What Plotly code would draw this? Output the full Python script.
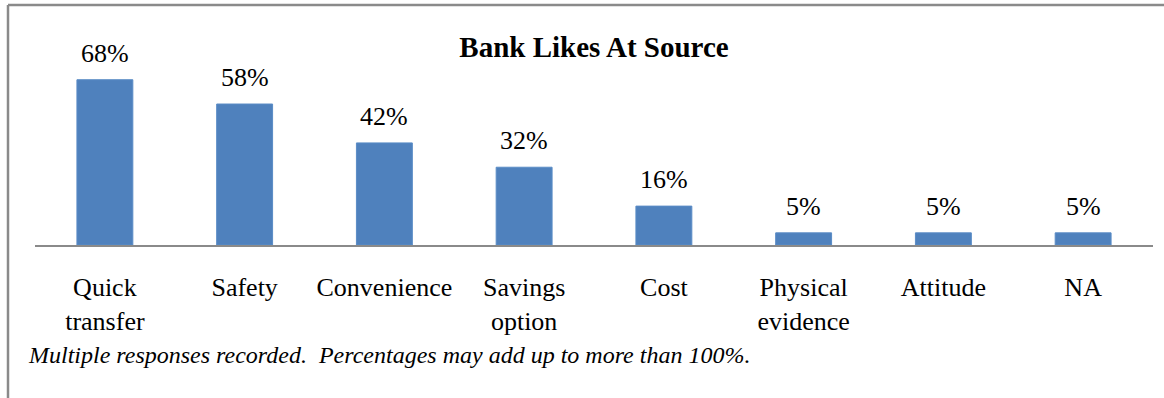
import plotly.graph_objects as go

# Survey data: share of respondents naming each reason they like the bank at source
categories = ["Quick<br>transfer", "Safety", "Convenience", "Savings<br>option",
              "Cost", "Physical<br>evidence", "Attitude", "NA"]
shares = [68, 58, 42, 32, 16, 5, 5, 5]

title_text = "Bank Likes At Source"
footnote = "Multiple responses recorded.&nbsp; Percentages may add up to more than 100%."

FONT = "Liberation Serif, Times New Roman, serif"
BAR = "#4F81BD"
FRAME = "#8a8a8a"

W, H = 1164, 398
ML, MR, MT, MB = 35, 11, 70, 153
plot_w = W - ML - MR
plot_h = H - MT - MB


def px_x(px):
    return (px - ML) / plot_w


def px_y(py):
    return (H - MB - py) / plot_h


fig = go.Figure(
    go.Bar(
        x=categories,
        y=shares,
        marker=dict(color=BAR, line=dict(color="#5a8cc6", width=1)),
        hoverinfo="skip",
    )
)

# value labels above the bars
for c, v in zip(categories, shares):
    fig.add_annotation(
        x=c, y=v, xref="x", yref="y",
        text=f"{v}%", showarrow=False,
        yanchor="bottom", yshift=10,
        font=dict(family=FONT, size=26, color="black"),
    )

# footnote
fig.add_annotation(
    x=px_x(26), y=px_y(355), xref="paper", yref="paper",
    xanchor="left", yanchor="middle", showarrow=False,
    text=f"<i>{footnote}</i>",
    font=dict(family=FONT, size=24, color="black"),
)

# frame: top and left edges
fig.add_shape(type="line", xref="paper", yref="paper",
              x0=px_x(8), x1=px_x(1170), y0=px_y(5), y1=px_y(5),
              line=dict(color=FRAME, width=2.5))
fig.add_shape(type="line", xref="paper", yref="paper",
              x0=px_x(8), x1=px_x(8), y0=px_y(5), y1=px_y(405),
              line=dict(color=FRAME, width=2.5))

fig.update_layout(
    width=W, height=H,
    margin=dict(l=ML, r=MR, t=MT, b=MB, pad=0),
    paper_bgcolor="white", plot_bgcolor="white",
    font=dict(family=FONT, size=26, color="black"),
    showlegend=False,
    bargap=0.6,
    title=dict(
        text=f"<b>{title_text}</b>",
        x=0.5, xref="paper", xanchor="center",
        y=1 - 47 / H, yref="container", yanchor="middle",
        font=dict(family=FONT, size=29, color="black"),
    ),
    xaxis=dict(
        showline=True, linecolor=FRAME, linewidth=2,
        showgrid=False, zeroline=False,
        ticks="", ticklabelstandoff=18,
        tickfont=dict(family=FONT, size=26, color="black"),
        fixedrange=True,
    ),
    yaxis=dict(
        range=[0, 72], visible=False, showgrid=False, zeroline=False,
        fixedrange=True,
    ),
)

fig.write_html("out.html", config={"displayModeBar": False})
